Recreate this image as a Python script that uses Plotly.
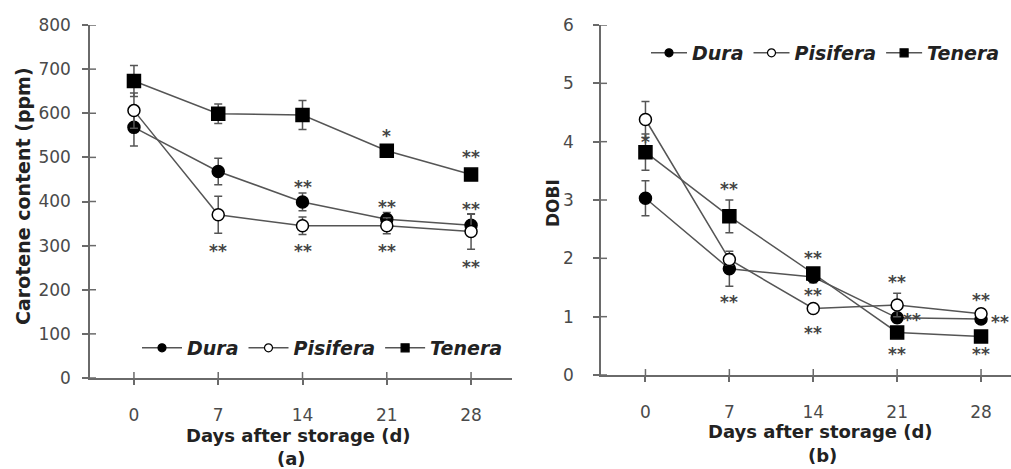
import plotly.graph_objects as go
from plotly.subplots import make_subplots

# ---------------- data ----------------
days = [0, 7, 14, 21, 28]
series_names = ["Dura", "Pisifera", "Tenera"]

car_dura = [568, 468, 399, 360, 346]
car_dura_err = [42, 30, 20, 15, 25]
car_pis = [606, 370, 345, 345, 332]
car_pis_err = [40, 42, 20, 18, 40]
car_ten = [673, 599, 596, 515, 461]
car_ten_err = [35, 22, 33, 12, 12]

dobi_dura = [3.03, 1.82, 1.68, 0.98, 0.96]
dobi_dura_err = [0.30, 0.30, 0.10, 0.08, 0.06]
dobi_pis = [4.38, 1.98, 1.14, 1.20, 1.05]
dobi_pis_err = [0.31, 0.10, 0.06, 0.20, 0.08]
dobi_ten = [3.82, 2.72, 1.74, 0.73, 0.66]
dobi_ten_err = [0.31, 0.28, 0.10, 0.06, 0.06]

stars_a_x = [7, 14, 14, 21, 21, 21, 28, 28, 28]
stars_a_y = [300, 444, 300, 560, 399, 300, 512, 394, 262]
stars_a_text = ["**", "**", "**", "*", "**", "**", "**", "**", "**"]

stars_b_x = [0, 7, 7, 14, 14, 14, 21, 22.2, 21, 28, 29.6, 28]
stars_b_y = [4.08, 3.27, 1.34, 2.09, 1.46, 0.81, 1.68, 1.03, 0.45, 1.37, 0.99, 0.45]
stars_b_text = ["*", "**", "**", "**", "**", "**", "**", "**", "**", "**", "**", "**"]

x_ticks = [0, 7, 14, 21, 28]
ya_ticks = [0, 100, 200, 300, 400, 500, 600, 700, 800]
yb_ticks = [0, 1, 2, 3, 4, 5, 6]

# ---------------- styles ----------------
FONT = "DejaVu Sans"
LINE_C = "#555555"
AXIS_C = "#6a6a6a"
TXT_C = "#222222"
TICK_C = "#4a4a4a"

W, H = 1011, 469
ML, MR, MT, MB = 0, 0, 25, 91
PH = H - MT - MB

marker_styles = [
    dict(symbol="circle", size=12, color="black", line=dict(color="black", width=1.5)),
    dict(symbol="circle", size=12, color="white", line=dict(color="black", width=1.5)),
    dict(symbol="square", size=13, color="black", line=dict(color="black", width=1.5)),
]
legend_marker_styles = [
    dict(symbol="circle", size=8, color="black", line=dict(color="black", width=1.2)),
    dict(symbol="circle", size=8, color="white", line=dict(color="black", width=1.2)),
    dict(symbol="square", size=8, color="black", line=dict(color="black", width=1.2)),
]

fig = make_subplots(rows=1, cols=2)

panel_a = [(car_dura, car_dura_err), (car_pis, car_pis_err), (car_ten, car_ten_err)]
panel_b = [(dobi_dura, dobi_dura_err), (dobi_pis, dobi_pis_err), (dobi_ten, dobi_ten_err)]

for col, panel, leg in [(1, panel_a, "legend"), (2, panel_b, "legend2")]:
    for name, (vals, errs), mk, lmk in zip(series_names, panel, marker_styles, legend_marker_styles):
        fig.add_trace(
            go.Scatter(
                x=days, y=vals, name=name, mode="lines+markers",
                line=dict(color=LINE_C, width=1.5),
                marker=mk,
                error_y=dict(type="data", array=errs, visible=True,
                             color=LINE_C, thickness=1.5, width=4),
                showlegend=False, cliponaxis=False,
            ),
            row=1, col=col,
        )
        # legend-only entry with the small legend symbol
        fig.add_trace(
            go.Scatter(
                x=[None], y=[None], name=name, mode="lines+markers",
                line=dict(color=LINE_C, width=1.5), marker=lmk,
                legend=leg, showlegend=True,
            ),
            row=1, col=col,
        )

# ---------------- axes ----------------
xa_dom = [90 / W, 512 / W]
xb_dom = [601 / W, 1.0]
ya_dom = [0, 1]
yb_dom = [(378 - 375) / PH, 1]

common_x = dict(
    tickvals=x_ticks, ticktext=[str(v) for v in x_ticks],
    showline=True, linecolor=AXIS_C, linewidth=1.5,
    ticks="outside", ticklen=5, tickwidth=1.5, tickcolor=AXIS_C,
    showgrid=False, zeroline=False,
    tickfont=dict(family=FONT, size=17, color=TICK_C),
    ticklabelstandoff=16,
)
fig.update_xaxes(common_x)
fig.update_xaxes(domain=xa_dom, range=[-3.65, 31.4], row=1, col=1)
fig.update_xaxes(domain=xb_dom, range=[-3.71, 30.5], row=1, col=2)

common_y = dict(
    showline=True, linecolor=AXIS_C, linewidth=1.5,
    ticks="outside", ticklen=6, tickwidth=1.5, tickcolor=AXIS_C,
    showgrid=False, zeroline=False,
    tickfont=dict(family=FONT, size=17, color=TICK_C),
)
fig.update_yaxes(common_y)
fig.update_yaxes(domain=ya_dom, range=[0, 800], tickvals=ya_ticks,
                 ticklabelstandoff=8, row=1, col=1)
fig.update_yaxes(domain=yb_dom, range=[0, 6], tickvals=yb_ticks,
                 ticklabelstandoff=16, row=1, col=2)

# inner halves of the crossing tick marks, derived from the tick arrays
shapes = []
for xref, yref in [("x", "y domain"), ("x2", "y2 domain")]:
    for t in x_ticks:
        shapes.append(dict(type="line", xref=xref, yref=yref, x0=t, x1=t,
                           y0=0, y1=6 / PH, line=dict(color=AXIS_C, width=1.5)))
for yref, xref, ticks, dom in [("y", "x domain", ya_ticks, xa_dom),
                                ("y2", "x2 domain", yb_ticks, xb_dom)]:
    frac = 6 / ((dom[1] - dom[0]) * W)
    for t in ticks:
        shapes.append(dict(type="line", xref=xref, yref=yref, x0=0, x1=frac,
                           y0=t, y1=t, line=dict(color=AXIS_C, width=1.5)))

# ---------------- annotations ----------------
def px_x(px):
    return px / W

def px_y(py):
    return (H - MB - py) / PH

annotations = []
star_font = dict(family=FONT, size=17, color="#444444", weight="bold")
for xs, ys, ts, xr, yr in [(stars_a_x, stars_a_y, stars_a_text, "x", "y"),
                           (stars_b_x, stars_b_y, stars_b_text, "x2", "y2")]:
    for x, y, t in zip(xs, ys, ts):
        annotations.append(dict(x=x, y=y, xref=xr, yref=yr, text=t, showarrow=False,
                                font=star_font, yshift=-5, xanchor="center", yanchor="middle"))

title_font = dict(family=FONT, size=18, color=TXT_C, weight="bold")
annotations += [
    dict(x=px_x(298), y=px_y(435), xref="paper", yref="paper", text="Days after storage (d)",
         showarrow=False, font=title_font, xanchor="center", yanchor="middle"),
    dict(x=px_x(291), y=px_y(458), xref="paper", yref="paper", text="(a)",
         showarrow=False, font=title_font, xanchor="center", yanchor="middle"),
    dict(x=px_x(820), y=px_y(431), xref="paper", yref="paper", text="Days after storage (d)",
         showarrow=False, font=title_font, xanchor="center", yanchor="middle"),
    dict(x=px_x(822), y=px_y(455), xref="paper", yref="paper", text="(b)",
         showarrow=False, font=title_font, xanchor="center", yanchor="middle"),
    dict(x=px_x(23), y=px_y(196), xref="paper", yref="paper", text="Carotene content (ppm)",
         showarrow=False, font=dict(family=FONT, size=19, color=TXT_C, weight="bold"),
         textangle=-90, xanchor="center", yanchor="middle"),
    dict(x=px_x(553), y=px_y(203), xref="paper", yref="paper", text="DOBI",
         showarrow=False, font=dict(family=FONT, size=17, color=TXT_C, weight="bold"),
         textangle=-90, xanchor="center", yanchor="middle"),
]

legend_font = dict(family=FONT, size=19, color=TXT_C, weight="bold", style="italic")

fig.update_layout(
    width=W, height=H,
    margin=dict(l=ML, r=MR, t=MT, b=MB),
    paper_bgcolor="white", plot_bgcolor="white",
    shapes=shapes, annotations=annotations,
    legend=dict(orientation="h", x=px_x(137), y=px_y(348), xanchor="left", yanchor="middle",
                font=legend_font, bgcolor="rgba(0,0,0,0)", itemwidth=40,
                tracegroupgap=0),
    legend2=dict(orientation="h", x=px_x(646), y=px_y(53), xanchor="left", yanchor="middle",
                 font=legend_font, bgcolor="rgba(0,0,0,0)", itemwidth=36,
                 tracegroupgap=0),
    showlegend=True,
)

fig.write_html("out.html")
